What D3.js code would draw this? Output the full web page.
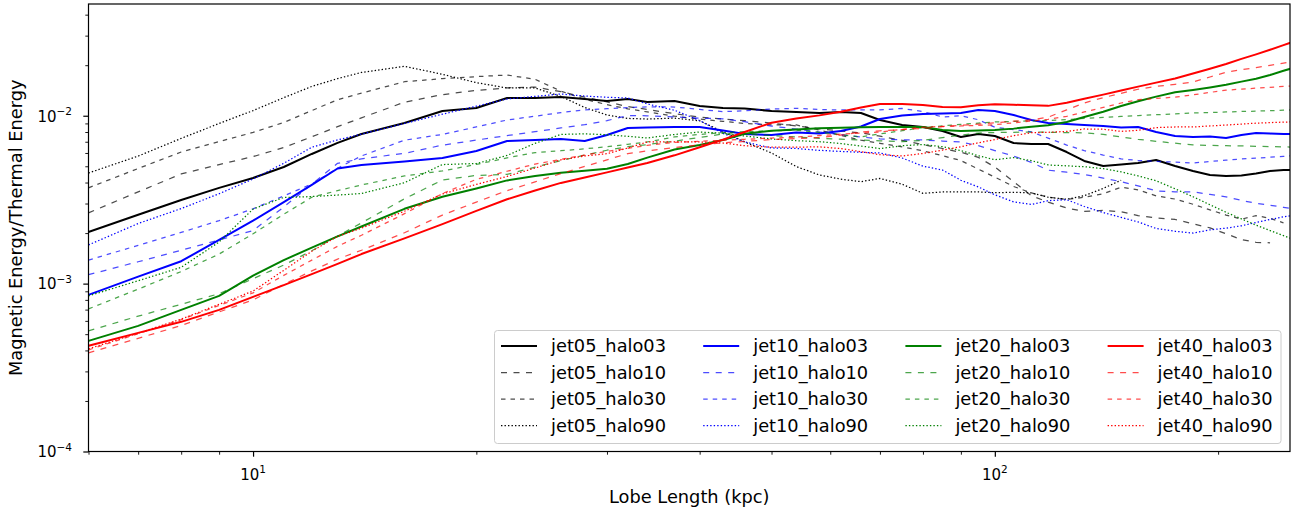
<!DOCTYPE html>
<html>
<head>
<meta charset="utf-8">
<script src="https://cdn.jsdelivr.net/npm/d3@7"></script>
<style>
  html, body { margin: 0; padding: 0; background: #ffffff; }
  svg { display: block; font-family: "DejaVu Sans", sans-serif; }
</style>
</head>
<body>
<svg id="chart" width="1301" height="515"></svg>
<script>
// Lobe length sampling (kpc)
const lobeLength = [6, 7, 8, 9, 10, 11, 12, 13, 14, 16, 18, 20, 22, 24, 26, 28, 30, 32, 34, 37,
  40, 43, 46, 50, 54, 58, 62, 66, 70, 75, 80, 85, 90, 95, 100, 106, 112, 118, 125, 132,
  140, 148, 156, 165, 175, 185, 195, 205, 215, 225, 235, 245, 255];

// Magnetic / thermal energy ratio for each run (null = run has ended)
const jet05_halo03 = [.00203, .00257, .00315, .00372, .00426, .00495, .00592, .00689, .00779, .00905,
  .01067, .01111, .01275, .01275, .01293, .01258, .01224, .01258, .01207, .01224,
  .01143, .01112, .01104, .01067, .01053, .01038, .01053, .01038, .00943, .00881,
  .00857, .00811, .00747, .00779, .00757, .00688, .00679, .00679, .00608, .00538,
  .00502, .00513, .00523, .00545, .00502, .00469, .00444, .00438, .00441, .00453,
  .00469, .00475, .00475];
const jet05_halo10 = [.00264, .00352, .0045, .00512, .00571, .00646, .00749, .00861, .00972, .01204,
  .01336, .01415, .01466, .01481, .0139, .01291, .01209, .01134, .0109, .01028,
  .0098, .00956, .00935, .00904, .0087, .00836, .00811, .00791, .00755, .00713,
  .00673, .00638, .00606, .00565, .00495, .00405, .00334, .00306, .00282, .00269,
  .00273, .00268, .00254, .00246, .00241, .00227, .00215, .00198, .00183, .00176,
  .00175, null, null];
const jet05_halo30 = [.00372, .00485, .00608, .00701, .00795, .00912, .01073, .01246, .01364, .01594,
  .01664, .0171, .01748, .01648, .01402, .01253, .01164, .011, .01053, .00994,
  .00956, .00926, .00899, .00881, .00881, .00822, .00765, .00715, .00685, .00652,
  .00618, .00578, .00541, .00481, .00431, .00379, .00347, .00328, .00317, .00327,
  .00343, .00375, .00362, .00333, .00319, .00297, .00275, .00256, .00242, .00254,
  .00245, .0023, null];
const jet05_halo90 = [.00456, .00575, .00733, .00899, .01073, .01281, .01495, .01664, .01811, .0197,
  .01765, .01575, .01463, .01463, .01304, .0112, .0101, .00964, .00956, .00968,
  .00933, .00803, .00698, .006, .00498, .00444, .00419, .00405, .00423, .00391,
  .00345, .00352, .00352, .00352, .00348, .0035, .00347, .00327, .00318, .00334,
  .00369, .00413, null, null, null, null, null, null, null, null,
  null, null, null];

const jet10_halo03 = [.000857, .0011, .00136, .00182, .00237, .00306, .00387, .00485, .00509, .00534,
  .0056, .00617, .00707, .00717, .00727, .00707, .00768, .00846, .00851, .00857,
  .00857, .00816, .00778, .00768, .00794, .00783, .00811, .00863, .00956, .01003,
  .01024, .01031, .01038, .01082, .01067, .0101, .00943, .00905, .00893, .00881,
  .00869, .00851, .00857, .008, .00757, .00747, .00752, .00737, .00768, .00789,
  .00783, .00778, .00778];
const jet10_halo10 = [.00113, .00135, .00158, .00182, .00207, .00286, .00391, .00521, .00554, .00597,
  .00668, .00716, .00762, .00803, .00846, .00884, .00935, .01003, .00999, .00983,
  .00968, .00959, .00921, .00868, .00833, .008, .00773, .00747, .00729, .00717,
  .00717, .00707, .00698, .00664, .0062, .00575, .00527, .00474, .00461, .00447,
  .00425, .00405, .00382, .00357, .00352, .00352, .0034, .00329, .00313, .00301,
  .00293, .00285, .00277];
const jet10_halo30 = [.00138, .00169, .00202, .00237, .00279, .00333, .00392, .00487, .00576, .00715,
  .00774, .00858, .00943, .00994, .01044, .01085, .01102, .01117, .01131, .01127,
  .0109, .01058, .0107, .01097, .01107, .0109, .01082, .01082, .01082, .01105,
  .01059, .00983, .01, .00947, .00854, .00827, .00801, .00736, .00669, .0062,
  .00583, .00554, .00541, .00535, .00529, .00523, .00534, .00544, .00553, .00559,
  .00566, .00573, .00579];
const jet10_halo90 = [.0017, .00228, .0028, .00343, .0042, .00521, .00649, .00718, .00777, .009,
  .01021, .0114, .01258, .01304, .01347, .0131, .01288, .01275, .01176, .01078,
  .00937, .00786, .00698, .00643, .00638, .00622, .00613, .00606, .006, .0056,
  .00501, .00475, .00413, .00377, .00338, .00307, .00296, .00312, .00316, .00288,
  .00265, .00248, .00233, .00213, .00205, .002, .00209, .00214, .00221, .00231,
  .00241, .0025, .00257];

const jet20_halo03 = [.000456, .00056, .000698, .000845, .001115, .00138, .00164, .00191, .00219, .00279,
  .00329, .00369, .00412, .00438, .00458, .0047, .00483, .00516, .00563, .00629,
  .0067, .00717, .00782, .00814, .00829, .00841, .00848, .00853, .00857, .00857,
  .00857, .00822, .00811, .00816, .00822, .00838, .0086, .00879, .00918, .00983,
  .01056, .01143, .01221, .013, .01379, .01423, .01473, .01528, .01597, .01659,
  .01748, .01852, .01951];
const jet20_halo10 = [.000523, .00064, .000753, .000871, .00107, .00129, .00157, .00192, .0023, .0032,
  .00414, .00441, .00447, .00494, .00541, .00583, .00623, .00654, .00673, .00706,
  .00742, .00778, .00779, .00763, .00747, .00734, .00725, .00717, .00709, .007,
  .00714, .00741, .00766, .00789, .00794, .00797, .00799, .00797, .00794, .00791,
  .00774, .00748, .00724, .00704, .00686, .0067, .00666, .00663, .00661, .00658,
  .00655, .00652, .0065];
const jet20_halo30 = [.000707, .000927, .00118, .0015, .00198, .00259, .00327, .00358, .00387, .00438,
  .00469, .00513, .00561, .00603, .00619, .00635, .00654, .00676, .00698, .00748,
  .00774, .00793, .00804, .00813, .00821, .00797, .00771, .00748, .00779, .00814,
  .0085, .0087, .00888, .00904, .00918, .00925, .00933, .00938, .00948, .00963,
  .00978, .00991, .01003, .01014, .01026, .01038, .01045, .01053, .0106, .01065,
  .01072, .01079, .01085];
const jet20_halo90 = [.000845, .00104, .00125, .00177, .00278, .00326, .0033, .00337, .00344, .00399,
  .00512, .00519, .0058, .00685, .00774, .0078, .00771, .00754, .00737, .00773,
  .008, .00787, .00757, .00727, .0071, .00701, .00683, .0066, .00637, .00663,
  .00674, .00654, .0062, .00578, .00547, .00563, .0054, .00509, .00503, .00497,
  .00484, .00463, .00438, .0041, .00367, .00329, .00295, .00266, .00243, .00223,
  .00207, .00193, .00181];

const jet40_halo03 = [.000426, .000509, .000592, .000698, .000834, .000979, .00114, .00131, .0015, .00186,
  .00226, .00271, .00318, .00359, .00398, .00429, .0046, .00492, .00523, .00581,
  .00649, .00721, .008, .00909, .00963, .01005, .01057, .01121, .01175, .01175,
  .01159, .01127, .01125, .01156, .01171, .01162, .01153, .01145, .01196, .01261,
  .01336, .01415, .01491, .01575, .01668, .01784, .01903, .02033, .02182, .02321,
  .02472, .02636, .02796];
const jet40_halo10 = [.000387, .000472, .000563, .000678, .0008, .00099, .00119, .0014, .00158, .00201,
  .00256, .00306, .00358, .00404, .00452, .00499, .00546, .00595, .00617, .00646,
  .00671, .0069, .00703, .00721, .00731, .00742, .00766, .00801, .00813, .00827,
  .00842, .0086, .00876, .00892, .00908, .00928, .00944, .00981, .01083, .01191,
  .01282, .0136, .01438, .01495, .0154, .01588, .01701, .01814, .0188, .01935,
  .01997, .0206, .02124];
const jet40_halo30 = [.000403, .000503, .000611, .000741, .000881, .00112, .00138, .00167, .00194, .00261,
  .00344, .00418, .00467, .00515, .0055, .00583, .00613, .00639, .00666, .00693,
  .00705, .00714, .00724, .00736, .00747, .00762, .00776, .00789, .008, .00829,
  .00853, .00864, .00869, .00876, .00884, .00908, .00931, .00952, .00992, .01053,
  .0112, .01191, .01246, .01268, .01291, .01332, .01377, .01421, .0144, .0146,
  .01476, .01495, .01512];
const jet40_halo90 = [.000409, .000507, .000614, .000753, .000903, .0012, .00156, .00191, .00214, .0027,
  .00342, .0039, .00435, .00488, .00546, .00576, .00594, .00642, .00698, .00698,
  .00698, .00688, .00663, .0065, .0065, .00653, .00637, .00611, .00586, .00576,
  .00596, .00624, .00654, .0069, .00721, .00761, .00792, .00797, .00806, .00834,
  .00831, .00807, .00819, .0085, .00857, .00857, .00869, .0088, .00892, .00903,
  .0091, .00916, .00921];

const jets = ["jet05", "jet10", "jet20", "jet40"];
const halos = ["halo03", "halo10", "halo30", "halo90"];
const seriesValues = {
  jet05_halo03, jet05_halo10, jet05_halo30, jet05_halo90,
  jet10_halo03, jet10_halo10, jet10_halo30, jet10_halo90,
  jet20_halo03, jet20_halo10, jet20_halo30, jet20_halo90,
  jet40_halo03, jet40_halo10, jet40_halo30, jet40_halo90
};

// Axis ticks
const xMajorTicks = [10, 100];
const xMinorTicks = [6, 7, 8, 9, 20, 30, 40, 50, 60, 70, 80, 90, 200];
const xTickExponents = ["1", "2"];
const yMajorTicks = [1e-4, 1e-3, 1e-2];
const yMinorTicks = [2e-4, 3e-4, 4e-4, 5e-4, 6e-4, 7e-4, 8e-4, 9e-4,
  2e-3, 3e-3, 4e-3, 5e-3, 6e-3, 7e-3, 8e-3, 9e-3, 2e-2, 3e-2, 4e-2];
const yTickExponents = ["\u22124", "\u22123", "\u22122"];

// Styling
const jetColor = { jet05: "#000000", jet10: "#0000ff", jet20: "#008000", jet40: "#ff0000" };
const haloStyle = {
  halo03: { width: 2.0, dash: null, opacity: 1 },
  halo10: { width: 1.25, dash: "6,6.5", opacity: 0.7 },
  halo30: { width: 1.25, dash: "4.5,5", opacity: 0.7 },
  halo90: { width: 1.25, dash: "1.4,2.1", opacity: 1 }
};

const plot = { left: 88.5, right: 1290, top: 4, bottom: 451.5 };
const svg = d3.select("#chart");

const x = d3.scaleLog().domain([6, 250]).range([plot.left, plot.right]);
const y = d3.scaleLog().domain([1e-4, 0.0463]).range([plot.bottom, plot.top]);

svg.append("defs").append("clipPath").attr("id", "plot-area")
  .append("rect")
  .attr("x", plot.left).attr("y", plot.top)
  .attr("width", plot.right - plot.left).attr("height", plot.bottom - plot.top);

const line = d3.line()
  .defined(d => d[1] != null)
  .x(d => x(d[0]))
  .y(d => y(d[1]));

// Curves, one per jet/halo run
const curves = svg.append("g").attr("clip-path", "url(#plot-area)");
jets.forEach(jet => {
  halos.forEach(halo => {
    const name = `${jet}_${halo}`;
    const pts = lobeLength.map((L, i) => [L, seriesValues[name][i]]);
    const st = haloStyle[halo];
    curves.append("path")
      .datum(pts)
      .attr("d", line)
      .attr("fill", "none")
      .attr("stroke", jetColor[jet])
      .attr("stroke-width", st.width)
      .attr("stroke-opacity", st.opacity)
      .attr("stroke-dasharray", st.dash)
      .attr("stroke-linejoin", "round")
      .attr("stroke-linecap", st.dash ? "butt" : "square");
  });
});

// Ticks
function styleTicks(g, w) {
  g.select(".domain").remove();
  g.selectAll(".tick line").attr("stroke", "#000").attr("stroke-width", w);
  g.selectAll(".tick text").remove();
}
svg.append("g").attr("transform", `translate(0,${plot.bottom})`)
  .call(d3.axisBottom(x).tickValues(xMinorTicks).tickSize(3.2).tickFormat(""))
  .call(g => styleTicks(g, 0.9));
svg.append("g").attr("transform", `translate(0,${plot.bottom})`)
  .call(d3.axisBottom(x).tickValues(xMajorTicks).tickSize(5.2).tickFormat(""))
  .call(g => styleTicks(g, 1.2));
svg.append("g").attr("transform", `translate(${plot.left},0)`)
  .call(d3.axisLeft(y).tickValues(yMinorTicks).tickSize(3.2).tickFormat(""))
  .call(g => styleTicks(g, 0.9));
svg.append("g").attr("transform", `translate(${plot.left},0)`)
  .call(d3.axisLeft(y).tickValues(yMajorTicks).tickSize(5.2).tickFormat(""))
  .call(g => styleTicks(g, 1.2));

// Tick labels with superscript exponents
xMajorTicks.forEach((v, i) => {
  const t = svg.append("text")
    .attr("x", x(v)).attr("y", 480)
    .attr("text-anchor", "middle")
    .attr("font-size", 15).attr("fill", "#000");
  t.append("tspan").text("10");
  t.append("tspan").attr("dy", -7).attr("font-size", 10.5).text(xTickExponents[i]);
});
yMajorTicks.forEach((v, i) => {
  const t = svg.append("text")
    .attr("x", 72).attr("y", y(v) + 5.8)
    .attr("text-anchor", "end")
    .attr("font-size", 15).attr("fill", "#000");
  t.append("tspan").text("10");
  t.append("tspan").attr("dy", -6.5).attr("font-size", 10.5).text(yTickExponents[i]);
});

// Frame
svg.append("rect")
  .attr("x", plot.left).attr("y", plot.top)
  .attr("width", plot.right - plot.left).attr("height", plot.bottom - plot.top)
  .attr("fill", "none").attr("stroke", "#000").attr("stroke-width", 1.2);

// Axis titles
svg.append("text")
  .attr("x", (plot.left + plot.right) / 2).attr("y", 503)
  .attr("text-anchor", "middle").attr("font-size", 17.8).attr("fill", "#000")
  .text("Lobe Length (kpc)");
svg.append("text")
  .attr("transform", `translate(21.7,${(plot.top + plot.bottom) / 2}) rotate(-90)`)
  .attr("text-anchor", "middle").attr("font-size", 17.8).attr("fill", "#000")
  .text("Magnetic Energy/Thermal Energy");

// Legend (4 columns, one per jet)
const legend = svg.append("g");
const lg = { x: 494.5, y: 330.5, w: 786.5, h: 113, colStep: 202.2, rowStep: 26.5,
  handleX: 6.5, handleLen: 36, textX: 56.5, firstBaseline: 21.5 };
legend.append("rect")
  .attr("x", lg.x).attr("y", lg.y).attr("width", lg.w).attr("height", lg.h)
  .attr("rx", 3).attr("ry", 3)
  .attr("fill", "#ffffff").attr("fill-opacity", 0.8)
  .attr("stroke", "#cccccc").attr("stroke-width", 1);
jets.forEach((jet, c) => {
  halos.forEach((halo, r) => {
    const st = haloStyle[halo];
    const bx = lg.x + lg.handleX + c * lg.colStep;
    const base = lg.y + lg.firstBaseline + r * lg.rowStep;
    legend.append("line")
      .attr("x1", bx).attr("x2", bx + lg.handleLen)
      .attr("y1", base - 6).attr("y2", base - 6)
      .attr("stroke", jetColor[jet])
      .attr("stroke-width", st.width)
      .attr("stroke-opacity", st.opacity)
      .attr("stroke-dasharray", st.dash);
    legend.append("text")
      .attr("x", lg.x + lg.textX + c * lg.colStep).attr("y", base)
      .attr("font-size", 17.8).attr("fill", "#000")
      .text(`${jet}_${halo}`);
  });
});
</script>
</body>
</html>
